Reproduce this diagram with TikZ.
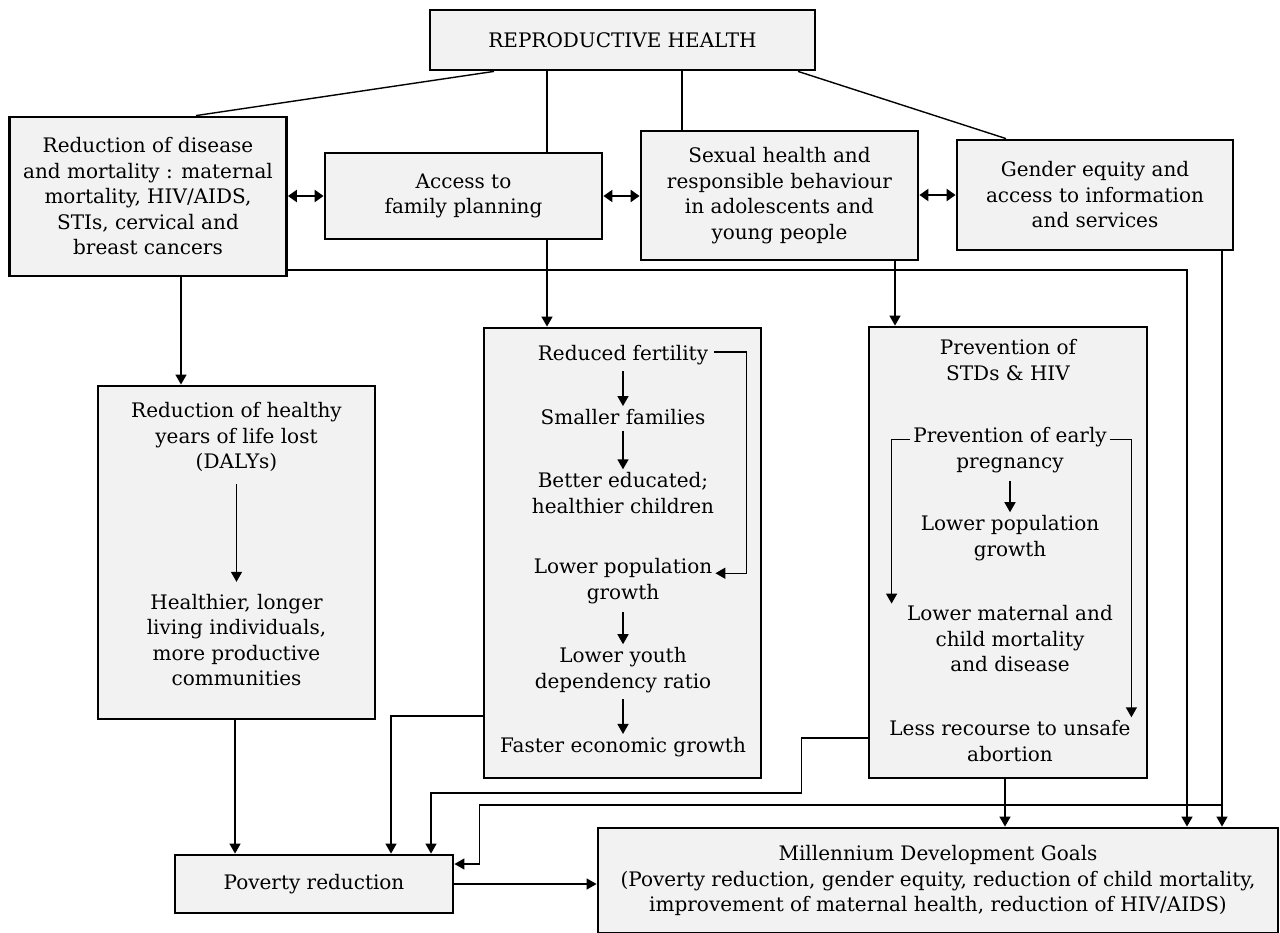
\documentclass[tikz,border=0pt]{standalone}
\usepackage{fontspec}
\setmainfont{DejaVu Serif}
\usetikzlibrary{arrows.meta,calc}
\newcommand\fs{\fontsize{20}{25.5}\selectfont}
\begin{document}
\begin{tikzpicture}[x=1pt,y=-1pt,
  box/.style={draw, line width=2.8pt, fill=black!5, align=center, inner sep=0pt, font=\fs},
  txt/.style={align=center, inner sep=0pt, font=\fs},
  conn/.style={line width=1.4pt},
  arr/.style={conn, -{Triangle[width=11pt,length=10pt]}},
  darr/.style={line width=2.2pt, {Triangle[width=12pt,length=9pt]}-{Triangle[width=12pt,length=9pt]}}]
\useasboundingbox[fill=white] (0,0) rectangle (1280,933);
% boxes
\node[box, minimum width=385pt, minimum height=60pt] (rh) at (622.5,40) {REPRODUCTIVE HEALTH};
\node[box, minimum width=277pt, minimum height=159pt] (red) at (148,196.5) {Reduction of disease\\and mortality : maternal\\mortality, HIV/AIDS,\\STIs, cervical and\\breast cancers};
\node[box, minimum width=277pt, minimum height=86pt] (fam) at (463.5,196) {Access to\\family planning};
\node[box, minimum width=277pt, minimum height=129pt] (sex) at (779.5,195.5) {Sexual health and\\responsible behaviour\\in adolescents and\\young people};
\node[box, minimum width=276pt, minimum height=110pt] (gen) at (1095,195) {Gender equity and\\access to information\\and services};
\node[box, minimum width=277pt, minimum height=333pt] (daly) at (236.5,552.5) {};
\node[box, minimum width=277pt, minimum height=450pt] (chain) at (622.5,553) {};
\node[box, minimum width=278pt, minimum height=451pt] (std) at (1008,552.5) {};
\node[box, minimum width=278pt, minimum height=58pt] (pov) at (314,884) {Poverty reduction};
\node[box, minimum width=680pt, minimum height=105pt] (mdg) at (938,880.5) {Millennium Development Goals\\(Poverty reduction, gender equity, reduction of child mortality,\\improvement of maternal health, reduction of HIV/AIDS)};
% inner texts
\node[txt] (d1) at (236.5,437) {Reduction of healthy\\years of life lost\\(DALYs)};
\node[txt] (d2) at (236.5,640) {Healthier, longer\\living individuals,\\more productive\\communities};
\node[txt] (c1) at (623,355) {Reduced fertility};
\node[txt] (c2) at (623,417) {Smaller families};
\node[txt] (c3) at (623,493) {Better educated;\\healthier children};
\node[txt] (c4) at (623,581) {Lower population\\growth};
\node[txt] (c5) at (623,670) {Lower youth\\dependency ratio};
\node[txt] (c6) at (623,747) {Faster economic growth};
\node[txt] (s0) at (1008,360) {Prevention of\\STDs \& HIV};
\node[txt] (s1) at (1010,450) {Prevention of early\\pregnancy};
\node[txt] (s2) at (1010,538) {Lower population\\growth};
\node[txt] (s3) at (1010,639) {Lower maternal and\\child mortality\\and disease};
\node[txt] (s4) at (1010,741) {Less recourse to unsafe\\abortion};
% top connectors
\draw[conn] ([xshift=-128.5pt]rh.south) -- ([xshift=48pt]red.north);
\draw[conn] ([xshift=-75.5pt]rh.south) -- ([xshift=83.5pt]fam.north);
\draw[conn] ([xshift=59.5pt]rh.south) -- ([xshift=-97.5pt]sex.north);
\draw[conn] ([xshift=175.5pt]rh.south) -- ([xshift=-89pt]gen.north);
\draw[darr] (red.east |- fam.west) -- (fam.west);
\draw[darr] (fam.east) -- (sex.west |- fam.east);
\draw[darr] (sex.east |- gen.west) -- (gen.west);
% downward connectors
\draw[arr] ([xshift=33pt]red.south) -- ([xshift=-55.5pt]daly.north);
\draw[arr] ([xshift=83.5pt]fam.south) -- ([xshift=-75.5pt]chain.north);
\draw[arr] ([xshift=115.5pt]sex.south) -- ([xshift=-113pt]std.north);
\draw[arr] ([yshift=-73.5pt]red.east) -| ([xshift=249pt]mdg.north);
\draw[arr] ([xshift=127pt]gen.south) -- ([xshift=284pt]mdg.north);
\coordinate (g1) at (1222,805);
\draw[arr] (g1) -| ($(pov.east)+(25,-20)$) -- ($(pov.east)+(0,-20)$);
\draw[arr] ([xshift=-1.5pt]daly.south) -- ([xshift=-79pt]pov.north);
\draw[arr] ([yshift=-163pt]chain.west) -| ([xshift=77pt]pov.north);
\draw[arr] ([yshift=-185.5pt]std.west) -- ++(-66,0) -- ++(0,55) -| ([xshift=117pt]pov.north);
\draw[arr] ([xshift=-3pt]std.south) -- ([xshift=67pt]mdg.north);
\draw[arr] (pov.east) -- (pov.east -| mdg.west);
% inner arrows
\draw[arr] ([yshift=-12pt]d1.south) -- ([yshift=12pt]d2.north);
\draw[arr] ([yshift=-6pt]c1.south) -- ([yshift=3pt]c2.north);
\draw[arr] ([yshift=-6pt]c2.south) -- ([yshift=3pt]c3.north);
\draw[arr] ([yshift=-8pt]c4.south) -- ([yshift=3pt]c5.north);
\draw[arr] ([yshift=-6pt]c5.south) -- ([yshift=3pt]c6.north);
\draw[arr] ([yshift=-8pt]s1.south) -- ([yshift=3pt]s2.north);
\coordinate (bx) at ($(chain.east)+(-16,0)$);
\draw[arr] ($(c1.east)+(6,-3)$) -- ($(c1.east -| bx)+(0,-3)$) |- ($(c4.north east)+(3,15)$);
\draw[arr] ($(s1.north west)+(-3,12)$) -| ($(s3.north -| std.west)+(24,-2)$);
\draw[arr] ($(s1.north east)+(3,12)$) -| ($(s4.north -| std.east)+(-17,-3)$);
\end{tikzpicture}
\end{document}
